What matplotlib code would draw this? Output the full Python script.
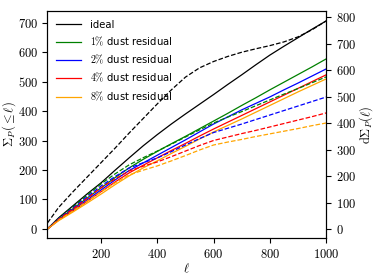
import matplotlib
matplotlib.use("Agg")
import matplotlib.pyplot as plt
from matplotlib.ticker import FuncFormatter

plt.rcParams['mathtext.fontset'] = 'cm'
plt.rcParams['font.size'] = 9

# multipoles
ell = [10, 50, 100, 150, 200, 250, 300, 350, 400, 450, 500,
       550, 600, 650, 700, 750, 800, 850, 900, 950, 1000]

# cumulative (left axis)
cum_ideal = [0, 38, 78, 118, 156, 199, 241, 282, 320, 356, 390,
             423, 456, 490, 523, 557, 590, 620, 649, 678, 706]
cum_1 = [0, 33, 68, 104, 139, 174, 207, 236, 263, 289, 314,
         340, 366, 392, 419, 445, 472, 498, 524, 550, 577]
cum_2 = [0, 31, 64, 98, 132, 166, 198, 224, 250, 276, 302,
         329, 356, 380, 404, 426, 448, 472, 495, 519, 543]
cum_4 = [0, 30, 61, 93, 126, 159, 190, 216, 241, 266, 290,
         315, 339, 362, 385, 408, 431, 454, 477, 500, 523]
cum_8 = [0, 28, 57, 87, 118, 150, 180, 207, 231, 256, 280,
         305, 329, 351, 373, 396, 419, 442, 465, 487, 509]

# differential (right axis)
d_ideal = [23, 82, 140, 195, 250, 305, 362, 417, 472, 525, 573,
           608, 632, 651, 667, 680, 692, 706, 725, 752, 785]
d_1 = [0, 41, 83, 127, 170, 208, 242, 269, 294, 320, 347,
       374, 400, 422, 443, 465, 487, 509, 530, 552, 574]
d_2 = [0, 39, 79, 121, 162, 198, 230, 250, 268, 292, 317,
       341, 364, 380, 396, 413, 430, 447, 464, 481, 498]
d_4 = [0, 37, 75, 115, 155, 189, 219, 237, 253, 273, 294,
       315, 334, 347, 360, 372, 385, 398, 411, 424, 438]
d_8 = [0, 34, 68, 104, 140, 174, 204, 222, 238, 257, 277,
       298, 317, 328, 338, 349, 359, 369, 379, 390, 400]

labels = ['ideal', r'$1\%$ dust residual', r'$2\%$ dust residual',
          r'$4\%$ dust residual', r'$8\%$ dust residual']
colors = ['k', 'g', 'b', 'r', 'orange']

fig = plt.figure(figsize=(3.74, 2.8), dpi=100)
ax = fig.add_axes([0.127, 0.149, 0.745, 0.813])
ax2 = ax.twinx()

for y, c, lab in zip([cum_ideal, cum_1, cum_2, cum_4, cum_8], colors, labels):
    ax.plot(ell, y, color=c, lw=0.9, label=lab)
for y, c in zip([d_ideal, d_1, d_2, d_4, d_8], colors):
    ax2.plot(ell, y, color=c, lw=0.9, ls='--')

ax.set_xlim(ell[0], ell[-1])
ax.set_ylim(-32, 741)
ax2.set_ylim(-35, 824)

fmt = FuncFormatter(lambda v, p: r'$%d$' % v)
ax.xaxis.set_major_formatter(fmt)
ax.yaxis.set_major_formatter(fmt)
ax2.yaxis.set_major_formatter(fmt)
ax.set_xticks([200, 400, 600, 800, 1000])
ax.set_yticks(range(0, 701, 100))
ax2.set_yticks(range(0, 801, 100))

ax.set_xlabel(r'$\ell$', labelpad=1)
ax.set_ylabel(r'$\Sigma_P(\leq\ell)$', labelpad=0)
ax2.set_ylabel(r'$\mathrm{d}\Sigma_P(\ell)$', labelpad=1)

ax.legend(loc='upper left', frameon=False, fontsize=7.2,
          handlelength=2.5, handletextpad=0.9)

fig.savefig('out.png', dpi=100)
